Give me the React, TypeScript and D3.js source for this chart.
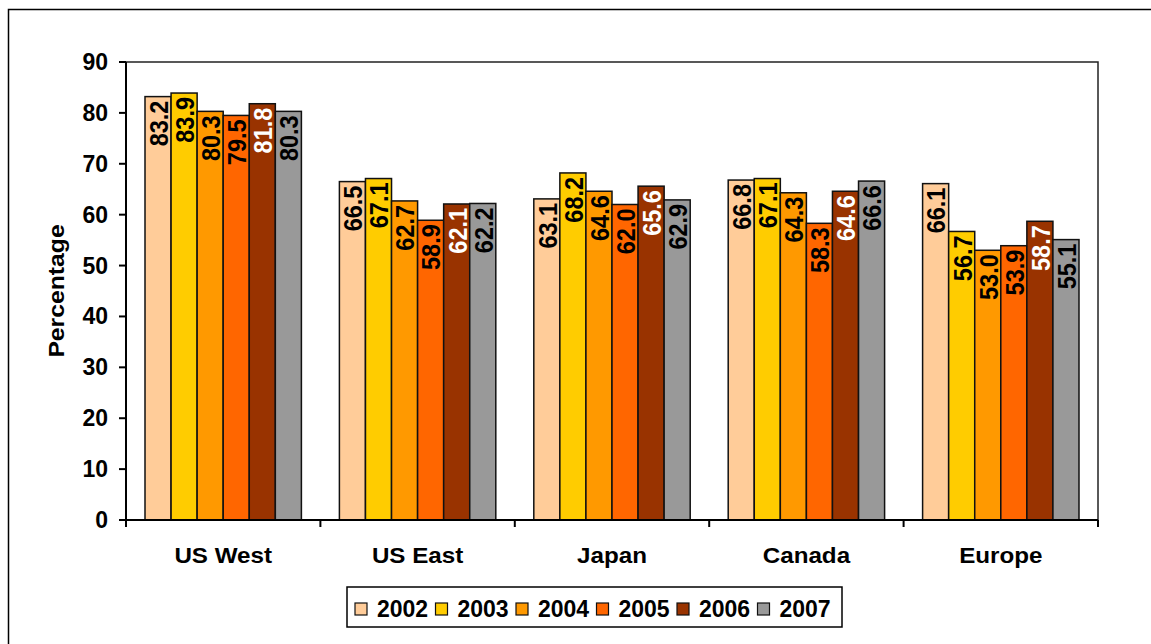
import React from "react";
import * as d3 from "d3";

const categories = ["US West", "US East", "Japan", "Canada", "Europe"];
const years = ["2002", "2003", "2004", "2005", "2006", "2007"];
const v2002 = [83.2, 66.5, 63.1, 66.8, 66.1];
const v2003 = [83.9, 67.1, 68.2, 67.1, 56.7];
const v2004 = [80.3, 62.7, 64.6, 64.3, 53.0];
const v2005 = [79.5, 58.9, 62.0, 58.3, 53.9];
const v2006 = [81.8, 62.1, 65.6, 64.6, 58.7];
const v2007 = [80.3, 62.2, 62.9, 66.6, 55.1];
const series = [v2002, v2003, v2004, v2005, v2006, v2007];
const colors = ["#FFCC99", "#FFCC00", "#FF9900", "#FF6600", "#993300", "#999999"];
const labelColors = ["#000", "#000", "#000", "#000", "#fff", "#000"];
const yTicks = [0, 10, 20, 30, 40, 50, 60, 70, 80, 90];

const W = 1151, H = 644;
const left = 126, right = 1098, top = 62, bottom = 520;
const FONT = "'Liberation Sans', Arial, sans-serif";

export default function App() {
  const x0 = d3.scaleBand().domain(categories).range([left, right]).paddingInner(0).paddingOuter(0);
  const groupPad = 19;
  const x1 = d3.scaleBand().domain(years).range([0, x0.bandwidth() - 2 * groupPad]).padding(0);
  const y = d3.scaleLinear().domain([0, 90]).range([bottom, top]);

  const legX0 = 355, legStep = 80.5;

  return (
    <svg width={W} height={H} style={{ position: "absolute", left: 0, top: 0 }} fontFamily={FONT}>
      <rect x={0} y={0} width={W} height={H} fill="#fff" />
      <rect x={8.5} y={9.5} width={1160} height={660} fill="none" stroke="#000" strokeWidth={1.5} />
      {/* plot area border */}
      <rect x={left} y={top} width={right - left} height={bottom - top} fill="none" stroke="#222" strokeWidth={1.5} />
      {/* bars */}
      {categories.map((c, ci) => (
        <g key={c}>
          {series.map((s, si) => {
            const bx = (x0(c) as number) + groupPad + (x1(years[si]) as number);
            const bw = x1.bandwidth();
            const by = y(s[ci]);
            return (
              <g key={si}>
                <rect x={bx} y={by} width={bw} height={bottom - by} fill={colors[si]} stroke="#111" strokeWidth={1.5} />
                <text
                  transform={`translate(${bx + bw / 2 + 1},${by + 4}) rotate(-90) scale(1,1.08)`}
                  textAnchor="end"
                  dominantBaseline="central"
                  fontSize={23.5}
                  fontWeight="bold"
                  fill={labelColors[si]}
                >
                  {s[ci].toFixed(1)}
                </text>
              </g>
            );
          })}
        </g>
      ))}
      {/* y axis */}
      <line x1={left} x2={left} y1={top} y2={bottom + 7} stroke="#000" strokeWidth={2} />
      {yTicks.map((t) => (
        <g key={t}>
          <line x1={left - 7} x2={left} y1={y(t)} y2={y(t)} stroke="#000" strokeWidth={2} />
          <text x={108} y={y(t)} textAnchor="end" dominantBaseline="central" fontSize={23} fontWeight="bold">
            {t}
          </text>
        </g>
      ))}
      {/* x axis */}
      <line x1={left - 7} x2={right} y1={bottom} y2={bottom} stroke="#000" strokeWidth={2} />
      {categories.map((c, ci) => (
        <line key={"t" + ci} x1={(x0(c) as number) + x0.bandwidth()} x2={(x0(c) as number) + x0.bandwidth()} y1={bottom} y2={bottom + 7} stroke="#000" strokeWidth={2} />
      ))}
      {categories.map((c) => (
        <text key={"l" + c} transform={`translate(${(x0(c) as number) + x0.bandwidth() / 2},563) scale(1.1,1)`} textAnchor="middle" fontSize={22} fontWeight="bold">
          {c}
        </text>
      ))}
      <text transform={`translate(57,${(top + bottom) / 2}) rotate(-90) scale(1.15,1)`} textAnchor="middle" dominantBaseline="central" fontSize={21.5} fontWeight="bold">
        Percentage
      </text>
      {/* legend */}
      <rect x={347} y={587} width={495} height={40} fill="#fff" stroke="#000" strokeWidth={1.5} />
      {years.map((yr, i) => (
        <g key={yr}>
          <rect x={legX0 + i * legStep} y={603} width={12} height={12} fill={colors[i]} stroke="#111" strokeWidth={1.2} />
          <text x={legX0 + 22 + i * legStep} y={609} dominantBaseline="central" fontSize={23} fontWeight="bold">
            {yr}
          </text>
        </g>
      ))}
    </svg>
  );
}
